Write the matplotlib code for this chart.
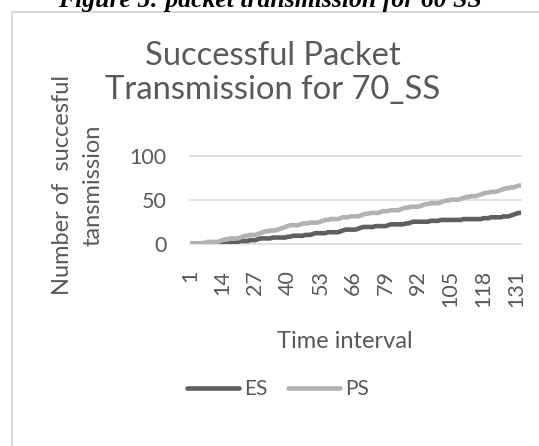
import matplotlib.pyplot as plt
from matplotlib.patches import Rectangle
from matplotlib.lines import Line2D

# データ
es = [0, 0, 0, 0, 0, 0, 0, 0,
      0, 0, 0, 0, 0, 0, 0, 0,
      1, 1, 1, 2, 3, 3, 3, 3,
      4, 4, 4, 5, 6, 6, 6, 6,
      6, 7, 7, 7, 7, 7, 7, 8,
      8, 9, 9, 9, 9, 9, 10, 10,
      10, 11, 12, 12, 12, 12, 12, 13,
      13, 13, 13, 13, 14, 15, 16, 16,
      16, 16, 16, 17, 18, 19, 19, 19,
      19, 19, 20, 20, 20, 20, 20, 21,
      22, 22, 22, 22, 22, 22, 23, 23,
      24, 25, 25, 25, 25, 25, 25, 25,
      26, 26, 26, 26, 27, 27, 27, 27,
      27, 27, 27, 27, 27, 28, 28, 28,
      28, 28, 28, 28, 28, 29, 29, 29,
      30, 30, 30, 30, 30, 31, 31, 31,
      32, 33, 34, 35, 35]
ps = [0, 0, 0, 0, 0, 1, 1, 2,
      2, 2, 2, 2, 3, 4, 5, 5,
      6, 6, 6, 6, 7, 8, 9, 9,
      10, 10, 10, 11, 12, 13, 14, 14,
      15, 15, 15, 16, 17, 18, 19, 20,
      21, 21, 21, 21, 22, 23, 23, 23,
      24, 24, 24, 24, 25, 26, 27, 27,
      28, 28, 28, 28, 29, 30, 30, 30,
      31, 31, 31, 31, 32, 33, 34, 34,
      35, 35, 35, 35, 36, 37, 37, 37,
      38, 38, 38, 38, 39, 40, 41, 41,
      42, 42, 42, 42, 43, 44, 45, 45,
      46, 46, 46, 46, 47, 48, 49, 49,
      50, 50, 50, 50, 51, 52, 53, 53,
      54, 54, 54, 55, 56, 57, 58, 58,
      59, 59, 59, 60, 61, 62, 63, 63,
      64, 64, 65, 66, 66]
x_ticks = [1, 14, 27, 40, 53, 66, 79, 92, 105, 118, 131]
y_ticks = [0, 50, 100]
series_names = ['ES', 'PS']

W, H = 539, 446
txt = '#595959'
plt.rcParams['font.family'] = ['Lato', 'DejaVu Sans']

fig = plt.figure(figsize=(W / 100, H / 100), dpi=100)
ax = fig.add_axes([190 / W, 1 - 243.7 / H, 331 / W, 88 / H])

x = list(range(1, len(es) + 1))
ax.plot(x, es, color='#5f5f5f', lw=3.3, solid_capstyle='round', zorder=3)
ax.plot(x, ps, color='#b2b2b2', lw=3.3, solid_capstyle='round', zorder=3)

ax.set_xlim(1, len(es))
ax.set_ylim(0, 100)
ax.set_xticks(x_ticks)
ax.set_xticklabels([str(t) for t in x_ticks], rotation=90, va='top', ha='center')
ax.set_yticks(y_ticks)
ax.tick_params(axis='both', length=0, labelsize=15.5, labelcolor=txt)
ax.tick_params(axis='y', pad=17)
ax.tick_params(axis='x', pad=19)
ax.grid(axis='y', color='#d9d9d9', lw=1.1, zorder=0)
ax.set_axisbelow(True)
for s in ax.spines.values():
    s.set_visible(False)
for gl in ax.get_ygridlines():
    gl.set_clip_on(False)

# 図の外枠
fig.patches.append(Rectangle((11.5 / W, -0.1), 1.2, 1.1 - 11.5 / H,
                             transform=fig.transFigure, fill=False,
                             edgecolor='#d9d9d9', lw=1.4))

# キャプション（上端で切れている）
fig.text(270 / W, 1 - 7 / H, 'Figure 5: packet transmission for 60 SS',
         family='Liberation Serif', weight='bold', style='italic',
         fontsize=18.5, ha='center', va='baseline', color='black')

fig.text(273 / W, 1 - 73 / H, 'Successful Packet\nTransmission for 70_SS',
         fontsize=23.6, color=txt, ha='center', va='center', linespacing=1.15)

fig.text(78 / W, 1 - 185 / H, 'Number of  succesful\ntansmission', rotation=90,
         fontsize=17, color=txt, ha='center', va='center', multialignment='center',
         linespacing=1.55)

fig.text(345 / W, 1 - 342 / H, 'Time interval', fontsize=17, color=txt,
         ha='center', va='center')

handles = [Line2D([], [], color='#5f5f5f', lw=3.3, solid_capstyle='round'),
           Line2D([], [], color='#b2b2b2', lw=3.3, solid_capstyle='round')]
fig.legend(handles, series_names, loc='center', bbox_to_anchor=(278 / W, 1 - 389 / H),
           ncol=2, frameon=False, fontsize=15, labelcolor=txt,
           handlelength=2.5, handletextpad=0.25, columnspacing=1.0)

fig.savefig('out.png', dpi=100)
